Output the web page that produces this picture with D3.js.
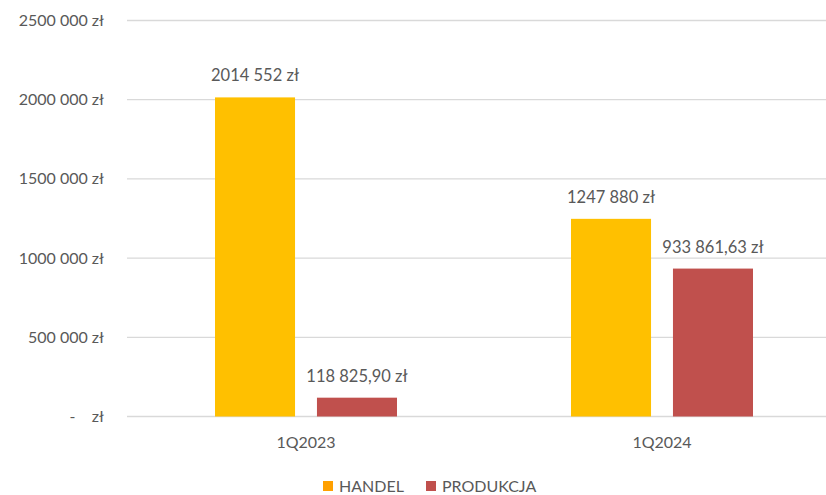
<!DOCTYPE html>
<html lang="pl">
<head>
<meta charset="UTF-8">
<title>HANDEL / PRODUKCJA</title>
<script src="https://d3js.org/d3.v7.min.js"></script>
<style>
  body { margin: 0; background: #fff; }
  text { font-family: Lato, "Open Sans", sans-serif; fill: #595959; white-space: pre; }
</style>
</head>
<body>
<div id="chart"></div>
<script>
const quarters = ["1Q2023", "1Q2024"];
const seriesNames = ["HANDEL", "PRODUKCJA"];
const handelValues = [2014552, 1247880];
const produkcjaValues = [118825.90, 933861.63];
const handelLabels = ["2014 552 zł", "1247 880 zł"];
const produkcjaLabels = ["118 825,90 zł", "933 861,63 zł"];
const yTicks = [0, 500000, 1000000, 1500000, 2000000, 2500000];
const yTickLabels = ["-    zł", "500 000 zł", "1000 000 zł", "1500 000 zł", "2000 000 zł", "2500 000 zł"];

const colors = { HANDEL: "#FFC000", PRODUKCJA: "#C0504D" };
const legendColors = { HANDEL: "#FFA000", PRODUKCJA: "#C0504D" };

const W = 826, H = 495;
const svg = d3.select("#chart").append("svg").attr("width", W).attr("height", H);

const y = d3.scaleLinear().domain([0, 2500000]).range([416.5, 20.5]);
const x0 = d3.scaleBand().domain(quarters).range([128, 840]);
const x1 = d3.scaleBand().domain(seriesNames).range([87, 269]).paddingInner(0.215);

// gridlines
svg.append("g")
  .selectAll("line")
  .data(yTicks)
  .join("line")
  .attr("x1", 127).attr("x2", W)
  .attr("y1", d => y(d)).attr("y2", d => y(d))
  .attr("stroke", "#D9D9D9").attr("stroke-width", 1.3);

// y labels
svg.append("g")
  .selectAll("text")
  .data(yTicks)
  .join("text")
  .attr("x", 104)
  .attr("y", d => y(d) + 5.5)
  .attr("text-anchor", "end")
  .style("font-size", "16px")
  .text((d, i) => yTickLabels[i]);

const rows = quarters.map((q, i) => ({
  q,
  items: [
    { s: "HANDEL", v: handelValues[i], label: handelLabels[i] },
    { s: "PRODUKCJA", v: produkcjaValues[i], label: produkcjaLabels[i] }
  ]
}));

const groups = svg.append("g")
  .selectAll("g")
  .data(rows)
  .join("g")
  .attr("transform", d => `translate(${x0(d.q)},0)`);

groups.selectAll("rect")
  .data(d => d.items)
  .join("rect")
  .attr("x", d => x1(d.s))
  .attr("width", x1.bandwidth())
  .attr("y", d => y(d.v))
  .attr("height", d => y(0) - y(d.v))
  .attr("fill", d => colors[d.s]);

groups.selectAll("text.val")
  .data(d => d.items)
  .join("text")
  .attr("class", "val")
  .attr("x", d => x1(d.s) + x1.bandwidth() / 2)
  .attr("y", d => y(d.v) - 16)
  .attr("text-anchor", "middle")
  .style("font-size", "16.5px")
  .text(d => d.label);

// x labels
svg.append("g")
  .selectAll("text")
  .data(quarters)
  .join("text")
  .attr("x", d => x0(d) + 178)
  .attr("y", 448)
  .attr("text-anchor", "middle")
  .style("font-size", "16px")
  .text(d => d);

// legend
const legendX = [323, 426];
const leg = svg.append("g")
  .selectAll("g")
  .data(seriesNames)
  .join("g")
  .attr("transform", (d, i) => `translate(${legendX[i]},0)`);
leg.append("rect")
  .attr("x", 0).attr("y", 481)
  .attr("width", 10).attr("height", 10)
  .attr("fill", d => legendColors[d]);
leg.append("text")
  .attr("x", 16).attr("y", 492)
  .style("font-size", "16px")
  .text(d => d);
</script>
</body>
</html>
